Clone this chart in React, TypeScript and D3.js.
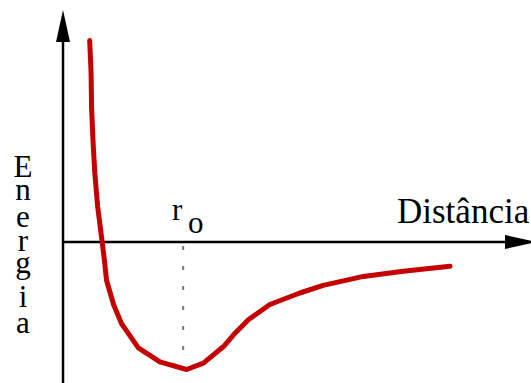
import React from "react";
import * as d3 from "d3";

// Distance (arbitrary units) and potential energy (relative to well depth)
const distance = [0.57, 0.6, 0.61, 0.64, 0.68, 0.74, 0.83, 0.89, 0.93, 1.08, 1.25, 1.61, 2.07, 2.64, 3.0, 3.43, 3.64, 3.96, 4.42, 5.06, 5.56, 6.42, 7.27, 8.27];
const energy = [1.58, 1.33, 1.06, 0.8, 0.54, 0.28, 0.02, -0.16, -0.3, -0.49, -0.64, -0.83, -0.94, -1.0, -0.95, -0.82, -0.73, -0.61, -0.49, -0.4, -0.34, -0.27, -0.23, -0.19];
const r0 = 2.6;
const yLabel = ["E", "n", "e", "r", "g", "i", "a"];
const yLabelBaselines = [177, 200, 227, 251, 273, 307, 333];
const xLabel = "Distância";

const W = 531;
const H = 383;

export default function App() {
  const x = d3.scaleLinear().domain([0, 10]).range([63, 531]);
  const y = d3.scaleLinear().domain([-1, 1]).range([369.5, 114.5]);
  const pts = distance.map((d, i) => [d, energy[i]] as [number, number]);
  const line = d3
    .line<[number, number]>()
    .x((d) => x(d[0]))
    .y((d) => y(d[1]))
    .curve(d3.curveLinear);

  const x0 = x(0);
  const y0 = y(0);
  const font = "'Liberation Serif', 'Times New Roman', serif";

  return (
    <svg
      width={W}
      height={H}
      style={{ position: "absolute", left: 0, top: 0, background: "#fff" }}
      fontFamily={font}
    >
      {/* y axis */}
      <line x1={x0} y1={H} x2={x0} y2={40} stroke="#000" strokeWidth={2.5} />
      <path d={`M${x0},10 L${x0 - 7},42 L${x0 + 7},42 Z`} fill="#000" />
      {/* x axis */}
      <line x1={x0} y1={y0} x2={507} y2={y0} stroke="#000" strokeWidth={2.5} />
      <path d={`M537,${y0} L505,${y0 - 7} L505,${y0 + 7} Z`} fill="#000" />
      {/* r0 marker */}
      <line
        x1={x(r0) - 1.5}
        x2={x(r0) - 1.5}
        y1={y0 + 4}
        y2={y(-1)}
        stroke="#777"
        strokeWidth={2}
        strokeDasharray="4 16"
      />
      {/* curve */}
      <path
        d={line(pts) || ""}
        fill="none"
        stroke="#c40000"
        strokeWidth={5}
        strokeLinejoin="round"
        strokeLinecap="round"
      />
      {/* labels */}
      {yLabel.map((c, i) => (
        <text key={i} x={23} y={yLabelBaselines[i]} fontSize={31} textAnchor="middle" fill="#000">
          {c}
        </text>
      ))}
      <text x={172} y={220} fontSize={31} fill="#000">r</text>
      <text x={188} y={233} fontSize={31} fill="#000">o</text>
      <text x={397} y={223} fontSize={35} fill="#000">{xLabel}</text>
    </svg>
  );
}
